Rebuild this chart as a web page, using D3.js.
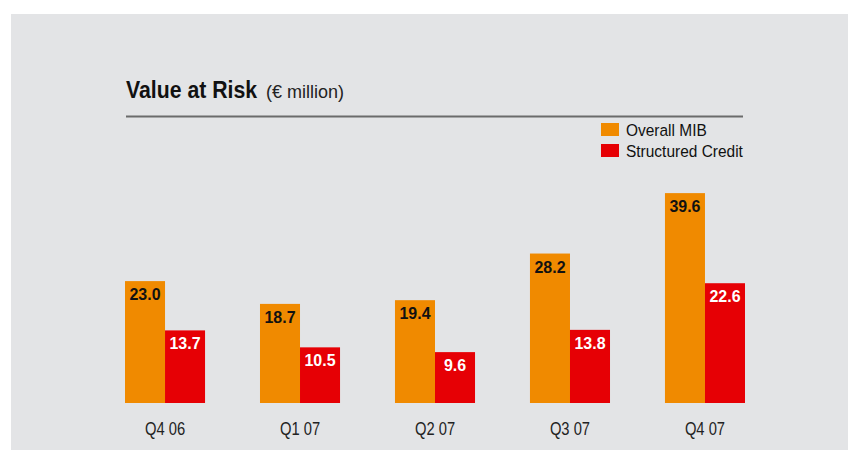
<!DOCTYPE html>
<html>
  <head>
    <meta charset='utf-8' />
    <title>Value at Risk</title>
    <script src="https://d3js.org/d3.v7.min.js"></script>
    <style>
body {
  margin: 0;
  background: #fff;
  font-family: "Liberation Sans", Arial, sans-serif;
}
    </style>
  </head>
  <body>
    <div id="graphic"></div>
    <script>
      // data
      const quarters = ["Q4 06", "Q1 07", "Q2 07", "Q3 07", "Q4 07"];
      const overallMIB = [23.0, 18.7, 19.4, 28.2, 39.6];
      const structuredCredit = [13.7, 10.5, 9.6, 13.8, 22.6];
      const seriesNames = ["Overall MIB", "Structured Credit"];
      const colors = ["#f08a00", "#e60005"];
      const labelColors = ["#111", "#fff"];

      const W = 848, H = 450;

      // the original uses a condensed face, so squeeze Liberation Sans horizontally
      function squeeze(x, y, k) {
        return "translate(" + x + "," + y + ") scale(" + k + ",1)";
      }

      const svg = d3.select("#graphic").append("svg")
        .attr("width", W)
        .attr("height", H);

      // grey panel
      svg.append("rect")
        .attr("x", 11).attr("y", 14)
        .attr("width", W - 11).attr("height", H - 14)
        .attr("fill", "#e3e4e6");

      // title
      svg.append("text")
        .attr("transform", squeeze(126, 98, 0.885))
        .style("font-size", "24px")
        .style("font-weight", "bold")
        .attr("fill", "#111")
        .text("Value at Risk");
      svg.append("text")
        .attr("transform", squeeze(266, 98, 1))
        .style("font-size", "18px")
        .attr("fill", "#222")
        .text("(€ million)");

      svg.append("line")
        .attr("x1", 126).attr("x2", 743)
        .attr("y1", 116.5).attr("y2", 116.5)
        .style("stroke", "#6b6b6b")
        .style("stroke-width", "2px");

      // scales
      const x0 = d3.scaleBand()
        .domain(quarters)
        .range([125, 745])
        .paddingInner(0.407)
        .paddingOuter(0);

      const x1 = d3.scaleBand()
        .domain(seriesNames)
        .range([0, x0.bandwidth()]);

      const y = d3.scaleLinear()
        .domain([0, 40])
        .range([403, 191]);

      const rows = quarters.map((q, i) => ({
        quarter: q,
        values: [overallMIB[i], structuredCredit[i]]
      }));

      const groups = svg.append("g")
        .selectAll("g")
        .data(rows)
        .join("g")
        .attr("transform", (d) => "translate(" + x0(d.quarter) + ",0)");

      const bars = groups.selectAll("g.bar")
        .data((d) => d.values.map((v, j) => ({ v: v, j: j })))
        .join("g")
        .attr("class", "bar");

      bars.append("rect")
        .attr("x", (d) => x1(seriesNames[d.j]))
        .attr("width", x1.bandwidth())
        .attr("y", (d) => y(d.v))
        .attr("height", (d) => y(0) - y(d.v))
        .attr("fill", (d) => colors[d.j]);

      bars.append("text")
        .attr("transform", (d) => squeeze(x1(seriesNames[d.j]) + x1.bandwidth() / 2, y(d.v) + 19, 0.94))
        .attr("text-anchor", "middle")
        .style("font-size", "17px")
        .style("font-weight", "bold")
        .attr("fill", (d) => labelColors[d.j])
        .text((d) => d.v.toFixed(1));

      // x axis labels
      const xAxis = svg.append("g")
        .attr("transform", "translate(0,403)")
        .call(d3.axisBottom(x0).tickSize(0).tickPadding(19));
      xAxis.select(".domain").remove();
      xAxis.selectAll("text")
        .attr("transform", "scale(0.82,1)")
        .style("font-size", "18px")
        .style("font-family", "\"Liberation Sans\", Arial, sans-serif")
        .attr("fill", "#222");

      // legend
      const legend = svg.append("g")
        .selectAll("g")
        .data(seriesNames)
        .join("g")
        .attr("transform", (d, i) => "translate(601," + (123 + i * 21) + ")");

      legend.append("rect")
        .attr("width", 18).attr("height", 13)
        .attr("fill", (d, i) => colors[i]);

      legend.append("text")
        .attr("transform", squeeze(25, 13, 0.91))
        .style("font-size", "17px")
        .attr("fill", "#111")
        .text((d) => d);
    </script>
  </body>
</html>
